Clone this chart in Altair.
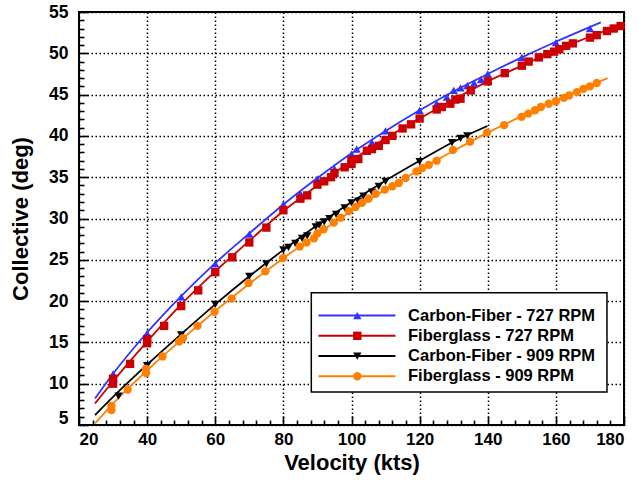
import altair as alt
import pandas as pd

# ---------------- data ----------------
series_names = ["Carbon-Fiber - 727 RPM", "Fiberglass - 727 RPM",
                "Carbon-Fiber - 909 RPM", "Fiberglass - 909 RPM"]
series_colors = ["#3333FF", "#CC0000", "#000000", "#FF8000"]
series_shapes = ["triangle-up", "square", "triangle-down", "circle"]

# Carbon-Fiber 727 RPM (markers)
cf727_v = [30, 40, 50, 60, 70, 80, 85, 90, 95, 100, 101.5, 106, 110, 120, 125, 128, 130,
           132, 134, 136, 138, 140, 150, 160, 170]
cf727_c = [11.2, 16.1, 20.5, 24.5, 28.1, 31.7, 33.0, 34.8, 36.0, 37.8, 38.4, 39.2, 40.6,
           43.1, 43.9, 44.7, 45.5, 45.8, 46.1, 46.4, 46.8, 47.5, 49.5, 51.3, 53.0]
# Carbon-Fiber 727 RPM (fit curve)
cf727_fit_v = [24.7, 30, 40, 50, 60, 70, 80, 90, 100, 110, 120, 130, 140, 150, 160, 173.2]
cf727_fit_c = [8.2, 11.2, 16.2, 20.6, 24.6, 28.2, 31.7, 34.9, 37.9, 40.6, 43.1, 45.4, 47.5,
               49.5, 51.4, 53.75]

# Fiberglass 727 RPM (markers)
fg727_v = [30, 30, 35, 40, 40, 45, 50, 55, 60, 65, 70, 75, 80, 85, 87, 90, 92, 94, 95, 98,
           100, 100, 102, 104.5, 106, 108, 110, 112, 115, 117.5, 120, 125, 126.5, 129, 130.5,
           132, 135, 140, 145, 150, 152, 155, 157.5, 159.5, 161, 163, 165, 170, 172, 175, 177, 179]
fg727_c = [10.0, 10.6, 12.4, 14.9, 15.4, 17.0, 19.4, 21.3, 23.5, 25.3, 27.1, 28.9, 31.0, 32.4,
           32.8, 34.1, 34.5, 35.0, 35.5, 36.2, 36.6, 37.1, 37.2, 38.2, 38.4, 38.8, 39.5, 40.0,
           40.9, 41.4, 42.1, 43.2, 43.5, 43.9, 44.4, 44.5, 45.5, 46.6, 47.6, 48.5, 49.0, 49.5,
           49.9, 50.2, 50.5, 50.9, 51.2, 51.9, 52.2, 52.7, 53.0, 53.3]
fg727_fit_v = [24.7, 30, 40, 50, 60, 70, 80, 90, 100, 110, 120, 130, 140, 150, 160, 170, 180]
fg727_fit_c = [7.6, 10.3, 15.1, 19.6, 23.6, 27.3, 30.9, 34.0, 37.0, 39.7, 42.1, 44.4, 46.6,
               48.5, 50.4, 52.0, 53.6]

# Carbon-Fiber 909 RPM (markers)
cf909_v = [31.6, 40, 50, 60, 70, 75, 80, 81.5, 83.5, 85.5, 87, 89.5, 90.5, 92, 93.5, 95.5,
           98, 100, 102, 103.5, 106, 108, 110, 120, 129.5, 132, 134]
cf909_c = [8.5, 12.2, 15.9, 19.6, 23.0, 24.5, 26.2, 26.5, 27.0, 27.6, 27.9, 29.0, 29.2, 29.6,
           30.0, 30.5, 31.3, 31.9, 32.1, 32.7, 33.2, 33.9, 34.5, 36.9, 39.2, 39.7, 40.0]
cf909_fit_v = [24.7, 30, 40, 50, 60, 70, 80, 90, 100, 110, 120, 130, 139.9]
cf909_fit_c = [6.2, 8.4, 12.3, 16.0, 19.6, 23.0, 26.2, 29.2, 32.0, 34.6, 37.0, 39.3, 41.2]

# Fiberglass 909 RPM (markers)
fg909_v = [29.5, 29.5, 34.3, 39.7, 39.7, 44.5, 49.4, 50.5, 54.8, 59.8, 64.8, 69.8, 74.7, 79.9,
           84.8, 86.8, 89, 90, 91.8, 94.8, 96.8, 99.2, 101.2, 103.1, 105, 107.1, 109.8, 112,
           113.9, 115.9, 119.1, 120.8, 122.7, 125, 129.8, 134.8, 139.8, 144.8, 149.9, 151.9,
           153.9, 155.6, 157.9, 160, 162.3, 163.9, 166.2, 168.1, 170, 172]
fg909_c = [6.8, 7.3, 9.3, 11.3, 11.8, 13.3, 15.1, 15.5, 17.0, 18.7, 20.3, 22.2, 23.6, 25.2,
           26.6, 27.1, 27.6, 28.2, 28.7, 29.5, 30.1, 30.9, 31.4, 31.9, 32.4, 33.0, 33.5, 33.9,
           34.3, 34.9, 35.7, 36.1, 36.5, 37.0, 38.3, 39.3, 40.4, 41.3, 42.3, 42.7, 43.1, 43.5,
           43.9, 44.2, 44.6, 44.9, 45.3, 45.7, 46.0, 46.4]
fg909_fit_v = [24.7, 30, 40, 50, 60, 70, 80, 90, 100, 110, 120, 130, 140, 150, 160, 175.2]
fg909_fit_c = [5.2, 7.6, 11.6, 15.3, 18.8, 22.1, 25.2, 28.1, 30.9, 33.5, 35.9, 38.2, 40.4,
               42.4, 44.3, 47.0]

X_DOMAIN = [20, 180]
Y_DOMAIN = [5, 55]
X_MAJOR_STEP, X_MINOR_STEP = 20, 4
Y_MAJOR_STEP, Y_MINOR_STEP = 5, 1
x_all_ticks = list(range(X_DOMAIN[0], X_DOMAIN[1] + 1, X_MINOR_STEP))
y_all_ticks = list(range(Y_DOMAIN[0], Y_DOMAIN[1] + 1, Y_MINOR_STEP))

# ---------------- tables ----------------
marker_sets = [(cf727_v, cf727_c), (fg727_v, fg727_c), (cf909_v, cf909_c), (fg909_v, fg909_c)]
fit_sets = [(cf727_fit_v, cf727_fit_c), (fg727_fit_v, fg727_fit_c),
            (cf909_fit_v, cf909_fit_c), (fg909_fit_v, fg909_fit_c)]

pts = pd.concat([pd.DataFrame({"v": v, "c": c, "s": n})
                 for (v, c), n in zip(marker_sets, series_names)], ignore_index=True)
fits = pd.concat([pd.DataFrame({"v": v, "c": c, "s": n})
                  for (v, c), n in zip(fit_sets, series_names)], ignore_index=True)

# ---------------- layout ----------------
FONT = "Liberation Sans"
W, H = 545, 413
MAJOR_LEN, MINOR_LEN = 9, 5          # inward tick lengths in pixels
MSIZE = 70

# legend layout (in data units of the axes)
LEG_BOX = dict(x1=88.2, x2=175.0, y1=9.0, y2=21.0)
LEG_ROW0, LEG_STEP = 18.25, 2.45
LEG_LINE_X1, LEG_LINE_X2, LEG_MARK_X, LEG_TEXT_X = 90.3, 112.9, 101.7, 116.6
leg = pd.DataFrame({"s": series_names,
                    "y": [LEG_ROW0 - i * LEG_STEP for i in range(len(series_names))]})
leg["x1"], leg["x2"], leg["xm"], leg["xt"] = LEG_LINE_X1, LEG_LINE_X2, LEG_MARK_X, LEG_TEXT_X
box = pd.DataFrame([LEG_BOX])

# ---------------- chart ----------------
xs = alt.Scale(domain=X_DOMAIN, nice=False, zero=False)
ys = alt.Scale(domain=Y_DOMAIN, nice=False, zero=False)
col = alt.Color("s:N", scale=alt.Scale(domain=series_names, range=series_colors), legend=None)
shp = alt.Shape("s:N", scale=alt.Scale(domain=series_names, range=series_shapes), legend=None)

x_is_major = f"datum.value % {X_MAJOR_STEP} === 0"
y_is_major = f"datum.value % {Y_MAJOR_STEP} === 0"

main_x = alt.Axis(
    values=x_all_ticks,
    labelExpr=f"{x_is_major} ? datum.label : ''",
    grid=True, gridDash=[1.5, 2.5], gridColor="black", gridWidth=1.5,
    gridOpacity={"condition": {"test": x_is_major, "value": 1}, "value": 0},
    ticks=True, tickColor="black", tickWidth=1.6,
    tickSize={"condition": {"test": x_is_major, "value": -MAJOR_LEN}, "value": -MINOR_LEN},
    domain=False, labelFont=FONT, labelFontSize=17,
    labelFontWeight="bold", labelColor="black", labelPadding=6 + MAJOR_LEN,
    title="Velocity (kts)", titleFont=FONT, titleFontSize=22,
    titleFontWeight="bold", titleColor="black", titlePadding=5)
main_y = alt.Axis(
    values=y_all_ticks,
    labelExpr=f"{y_is_major} ? datum.label : ''",
    grid=True, gridDash=[1.5, 2.5], gridColor="black", gridWidth=1.5,
    gridOpacity={"condition": {"test": y_is_major, "value": 1}, "value": 0},
    ticks=True, tickColor="black", tickWidth=1.6,
    tickSize={"condition": {"test": y_is_major, "value": -MAJOR_LEN}, "value": -MINOR_LEN},
    domain=False, labelFont=FONT, labelFontSize=17.5,
    labelFontWeight="bold", labelColor="black", labelPadding=11 + MAJOR_LEN,
    labelOffset={"condition": {"test": "datum.value == 5", "value": -7}, "value": 0},
    title="Collective (deg)", titleFont=FONT, titleFontSize=22,
    titleFontWeight="bold", titleColor="black", titlePadding=16)

lines = alt.Chart(fits).mark_line(interpolate="monotone", strokeWidth=1.8).encode(
    x=alt.X("v:Q", scale=xs, axis=main_x),
    y=alt.Y("c:Q", scale=ys, axis=main_y),
    color=col,
    detail="s:N",
)

points = alt.Chart(pts).mark_point(filled=True, size=MSIZE, opacity=1).encode(
    x=alt.X("v:Q", scale=xs, axis=None),
    y=alt.Y("c:Q", scale=ys, axis=None),
    color=col,
    shape=shp,
)

legend_box = alt.Chart(box).mark_rect(fill="white", stroke="black", strokeWidth=1.5).encode(
    x=alt.X("x1:Q", scale=xs, axis=None),
    x2="x2:Q",
    y=alt.Y("y1:Q", scale=ys, axis=None),
    y2="y2:Q",
)

legend_lines = alt.Chart(leg).mark_rule(strokeWidth=2).encode(
    x=alt.X("x1:Q", scale=xs, axis=None),
    x2="x2:Q",
    y=alt.Y("y:Q", scale=ys, axis=None),
    color=col,
)

legend_marks = alt.Chart(leg).mark_point(filled=True, size=MSIZE, opacity=1).encode(
    x=alt.X("xm:Q", scale=xs, axis=None),
    y=alt.Y("y:Q", scale=ys, axis=None),
    color=col,
    shape=shp,
)

legend_text = alt.Chart(leg).mark_text(align="left", baseline="middle", font=FONT,
                                       fontSize=16.5, fontWeight="bold", color="black").encode(
    x=alt.X("xt:Q", scale=xs, axis=None),
    y=alt.Y("y:Q", scale=ys, axis=None),
    text="s:N",
)

chart = alt.layer(
    lines, points, legend_box, legend_lines, legend_marks, legend_text,
).resolve_axis(
    x="independent", y="independent"
).properties(
    width=W, height=H,
    autosize=alt.AutoSizeParams(type="none"),
    padding={"left": 79, "top": 12, "right": 15, "bottom": 56},
    background="white",
).configure_view(stroke="black", strokeWidth=2)

chart.save("out.html", embed_options={"renderer": "svg", "actions": False})
